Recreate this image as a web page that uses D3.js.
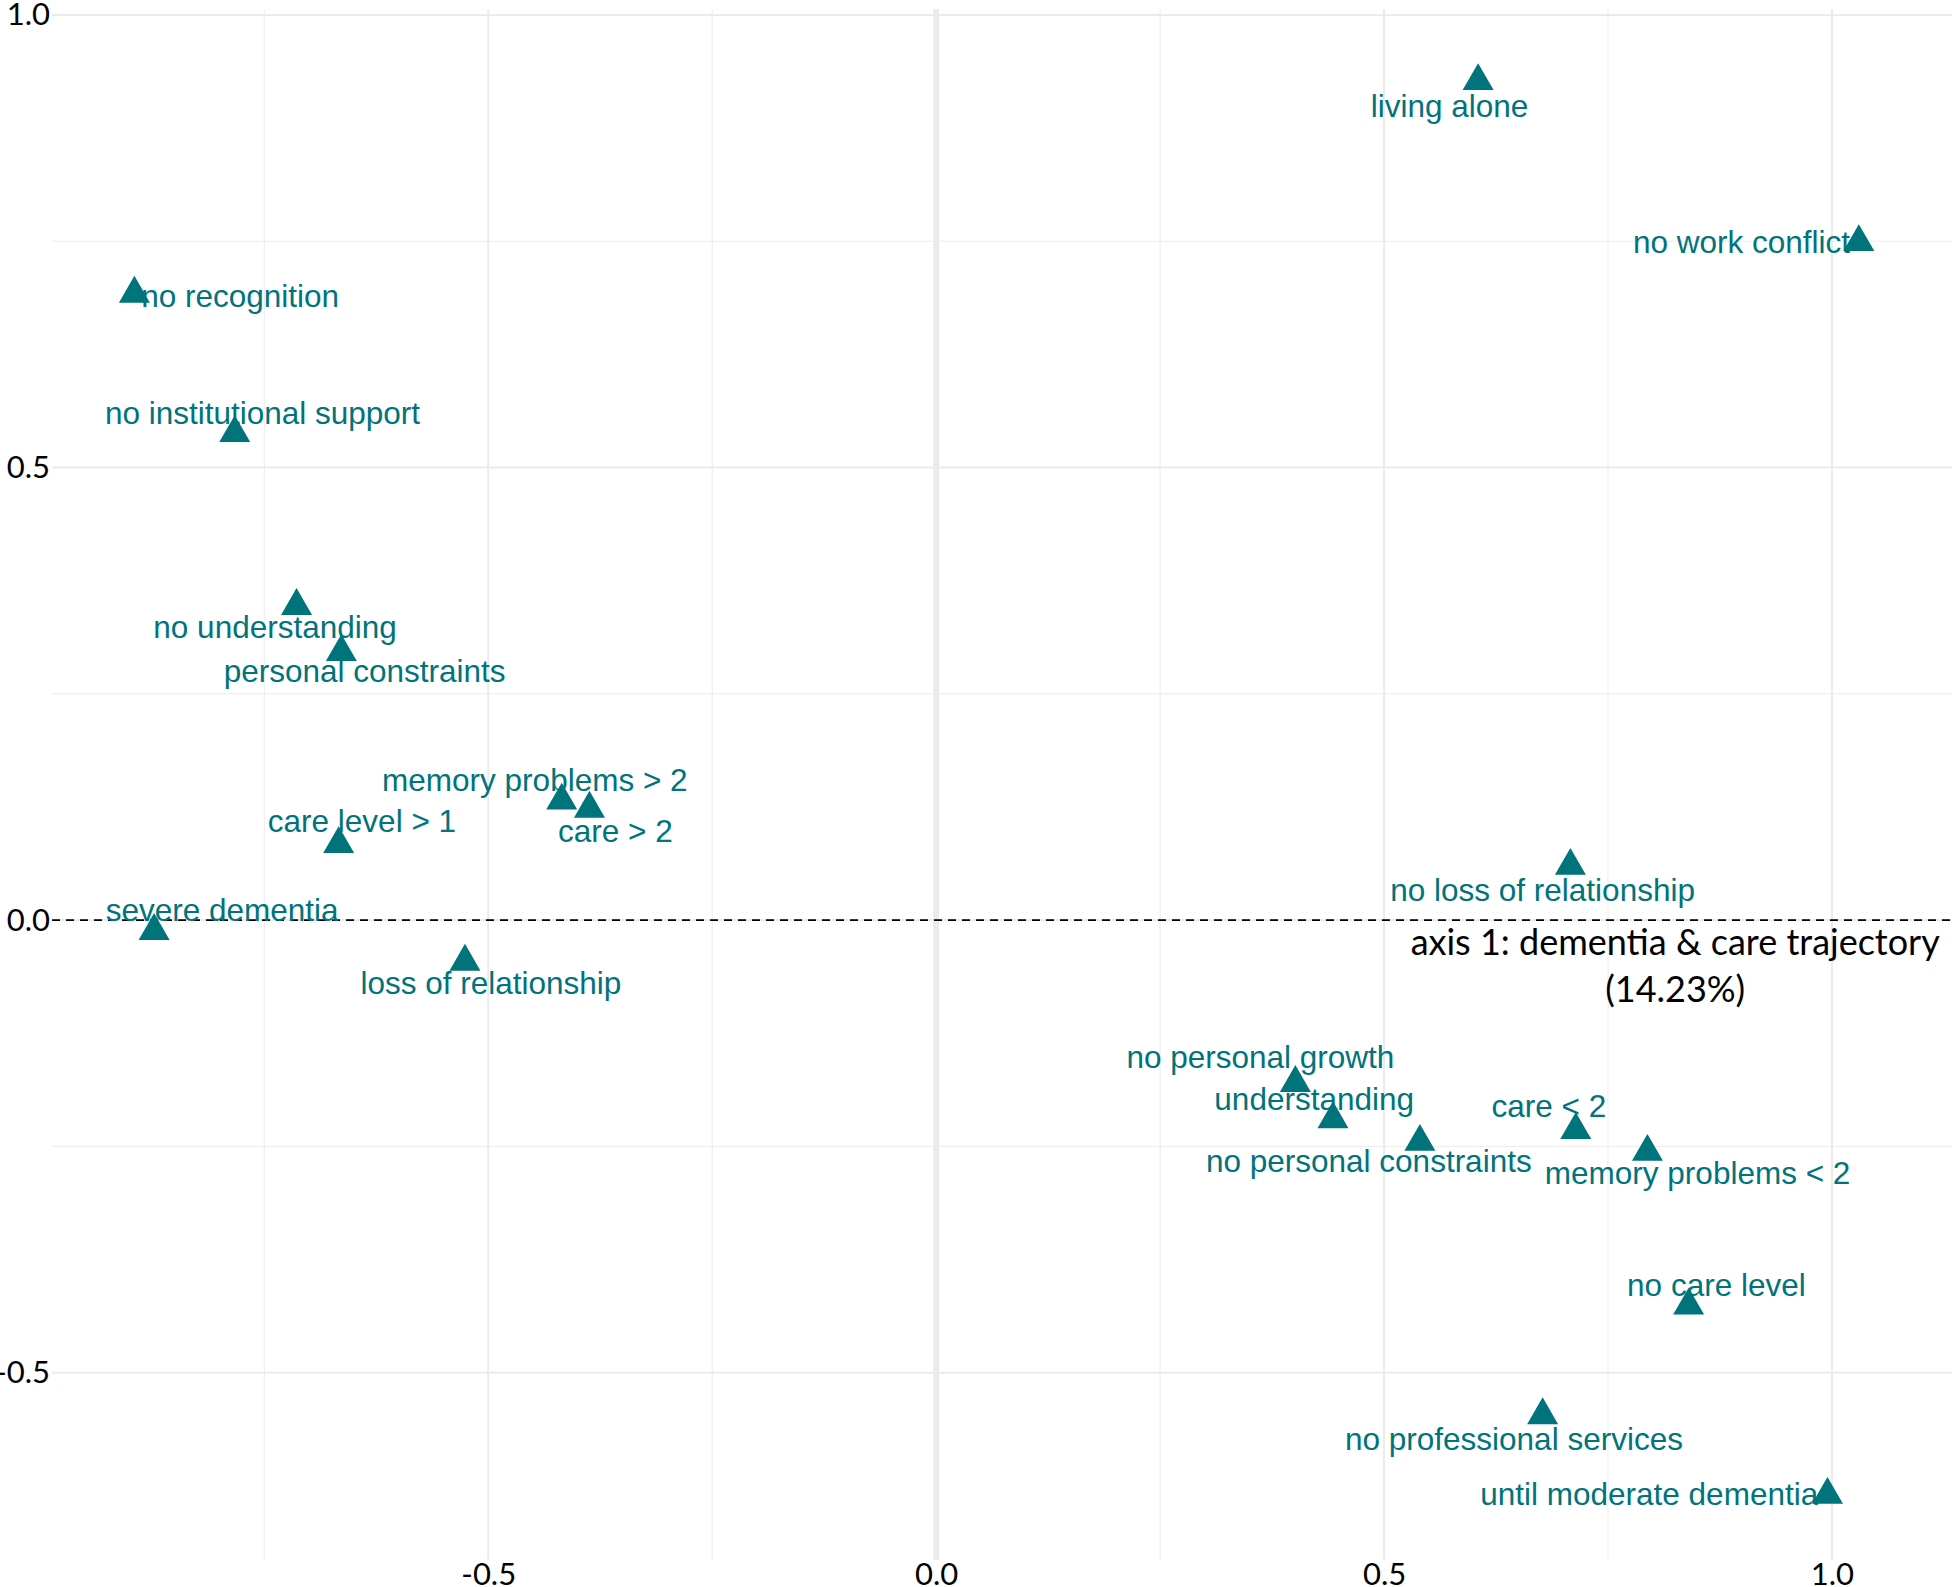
<!DOCTYPE html>
<html>
<head>
<meta charset="utf-8">
<script src="https://cdn.jsdelivr.net/npm/d3@7"></script>
<style>
  body { margin: 0; background: #fff; }
  svg { display: block; }
</style>
</head>
<body>
<svg id="chart" width="1952" height="1587"></svg>
<script>
// category labels and coordinates on the two MCA axes
const categories = [
    "living alone", "no work conflict", "no recognition", "no institutional support",
    "no understanding", "personal constraints", "memory problems > 2", "care > 2",
    "care level > 1", "severe dementia", "loss of relationship", "no loss of relationship",
    "no personal growth", "understanding", "no personal constraints", "care < 2",
    "memory problems < 2", "no care level", "no professional services", "until moderate dementia"
];
const dim1 = [0.605, 1.030, -0.895, -0.783, -0.714, -0.664, -0.418, -0.387, -0.667, -0.873,
              -0.526, 0.708, 0.401, 0.443, 0.540, 0.714, 0.794, 0.840, 0.677, 0.995];
const dim2 = [0.927, 0.749, 0.692, 0.538, 0.347, 0.296, 0.132, 0.123, 0.084, -0.012,
              -0.046, 0.060, -0.180, -0.220, -0.245, -0.232, -0.256, -0.426, -0.547, -0.635];

// repelled label positions (data units)
const labelX = [0.573, 0.899, -0.777, -0.752, -0.738, -0.638, -0.448, -0.358, -0.641, -0.797,
                -0.497, 0.677, 0.362, 0.422, 0.483, 0.684, 0.850, 0.871, 0.645, 0.796];
const labelY = [0.899, 0.749, 0.690, 0.560, 0.324, 0.275, 0.155, 0.098, 0.109, 0.011,
                -0.069, 0.033, -0.151, -0.198, -0.266, -0.205, -0.279, -0.403, -0.573, -0.634];

const majorTicks = [-0.5, 0.0, 0.5, 1.0];
const minorX = [-0.75, -0.25, 0.25, 0.75];
const minorY = [-0.25, 0.25, 0.75];

const axisTitle = ["axis 1: dementia & care trajectory", "(14.23%)"];
const axisTitleX = 0.825;
const axisTitleY = [-0.039, -0.090];

const TEAL = "#00737b";
const GRID = "#ebebeb";

const svg = d3.select("#chart");
const width = 1952, height = 1587;

svg.append("rect").attr("width", width).attr("height", height).attr("fill", "#fff");

const x = d3.scaleLinear().domain([-0.987, 1.134]).range([52, 1952]);
const y = d3.scaleLinear().domain([1.0066, -0.707]).range([9, 1560]);

const [px0, px1] = x.range();
const [py0, py1] = y.range();

/* ---------------- grid ---------------- */

const grid = svg.append("g");

grid.selectAll(".minor-x").data(minorX).enter().append("line")
    .attr("x1", d => x(d)).attr("x2", d => x(d))
    .attr("y1", py0).attr("y2", py1)
    .attr("stroke", GRID).attr("stroke-width", 1);

grid.selectAll(".minor-y").data(minorY).enter().append("line")
    .attr("x1", px0).attr("x2", px1)
    .attr("y1", d => y(d)).attr("y2", d => y(d))
    .attr("stroke", GRID).attr("stroke-width", 1);

grid.selectAll(".major-x").data(majorTicks).enter().append("line")
    .attr("x1", d => x(d)).attr("x2", d => x(d))
    .attr("y1", py0).attr("y2", py1)
    .attr("stroke", GRID).attr("stroke-width", 2);

grid.selectAll(".major-y").data(majorTicks).enter().append("line")
    .attr("x1", px0).attr("x2", px1)
    .attr("y1", d => y(d)).attr("y2", d => y(d))
    .attr("stroke", GRID).attr("stroke-width", 2);

// thick vertical reference at 0, dashed horizontal at 0
svg.append("line")
    .attr("x1", x(0)).attr("x2", x(0))
    .attr("y1", py0).attr("y2", py1)
    .attr("stroke", GRID).attr("stroke-width", 6);

svg.append("line")
    .attr("x1", px0).attr("x2", px1)
    .attr("y1", y(0)).attr("y2", y(0))
    .attr("stroke", "#000").attr("stroke-width", 1.6)
    .attr("stroke-dasharray", "8,6");

/* ---------------- axes ---------------- */

const yAxis = svg.append("g")
    .attr("transform", `translate(${px0 - 2},0)`)
    .call(d3.axisLeft(y).tickValues(majorTicks).tickSize(0).tickPadding(0)
        .tickFormat(d => d.toFixed(1)));
yAxis.select(".domain").remove();
yAxis.selectAll("text")
    .attr("font-family", "Lato, sans-serif")
    .attr("font-size", 31)
    .attr("fill", "#000");

const xAxis = svg.append("g")
    .attr("transform", `translate(0,${py1})`)
    .call(d3.axisBottom(x).tickValues(majorTicks).tickSize(0).tickPadding(3)
        .tickFormat(d => d.toFixed(1)));
xAxis.select(".domain").remove();
xAxis.selectAll("text")
    .attr("font-family", "Lato, sans-serif")
    .attr("font-size", 31)
    .attr("fill", "#000");

/* ---------------- points & labels ---------------- */

const points = categories.map((c, i) => ({
    label: c, x: dim1[i], y: dim2[i], lx: labelX[i], ly: labelY[i]
}));

const tri = d3.symbol().type(d3.symbolTriangle).size(416);

svg.append("g").selectAll("path").data(points).enter().append("path")
    .attr("d", tri)
    .attr("transform", d => `translate(${x(d.x)},${y(d.y)})`)
    .attr("fill", TEAL);

svg.append("g").selectAll("text").data(points).enter().append("text")
    .attr("x", d => x(d.lx))
    .attr("y", d => y(d.ly))
    .attr("dy", "0.35em")
    .attr("text-anchor", "middle")
    .attr("font-family", "'Liberation Sans', Arial, sans-serif")
    .attr("font-size", 31.5)
    .attr("fill", TEAL)
    .text(d => d.label);

/* ---------------- axis annotation ---------------- */

svg.append("g").selectAll("text").data(axisTitle).enter().append("text")
    .attr("x", x(axisTitleX))
    .attr("y", (d, i) => y(axisTitleY[i]))
    .attr("text-anchor", "middle")
    .attr("font-family", "Lato, sans-serif")
    .attr("font-size", 36)
    .attr("fill", "#000")
    .text(d => d);
</script>
</body>
</html>
